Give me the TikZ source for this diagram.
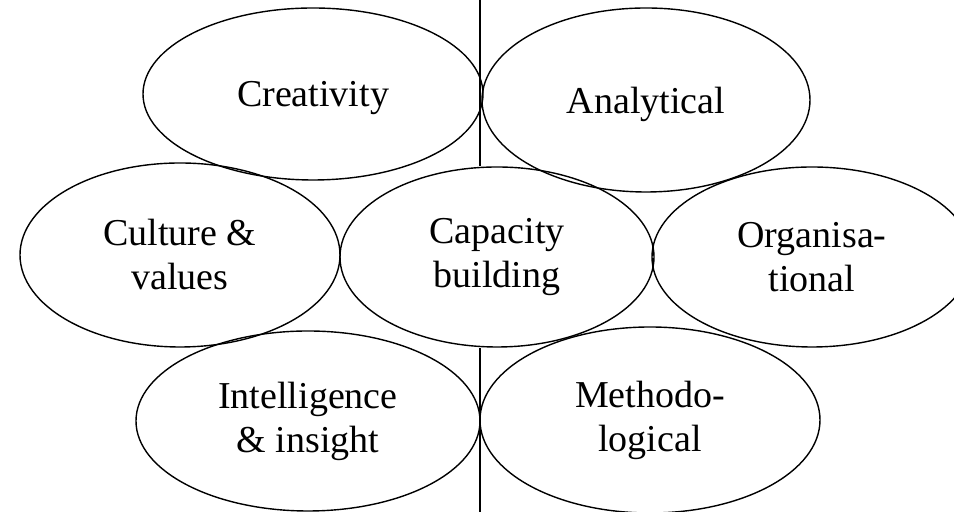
\documentclass[tikz,border=0pt]{standalone}
\usepackage{fontspec}
\setmainfont{Liberation Serif}
\usepackage{tikz}
\usetikzlibrary{shapes.geometric}

\begin{document}
\begin{tikzpicture}[x=0.5pt, y=0.5pt,
        bubble/.style={ellipse, draw, line width=0.7pt, inner sep=0pt, align=center,
            font=\fontsize{19}{22}\selectfont}]
        \useasboundingbox (0,0) rectangle (954,512);
        \node[bubble, text depth=0pt, minimum width=170pt, minimum height=86pt] (cre) at (313,418) {Creativity};
        \node[bubble, text depth=0pt, minimum width=164pt, minimum height=92pt] (ana) at (646,412) {Analytical};
        \node[bubble, minimum width=160pt, minimum height=92pt] (cul) at (180,257) {Culture \&\\values};
        \node[bubble, minimum width=157pt, minimum height=90pt] (cap) at (497,255) {Capacity\\building};
        \node[bubble, minimum width=160pt, minimum height=90pt] (org) at (812,255) {Organisa-\\tional};
        \node[bubble, minimum width=172pt, minimum height=90pt] (int) at (308,91) {Intelligence\\\& insight};
        \node[bubble, minimum width=170pt, minimum height=93pt] (met) at (650,92) {Methodo-\\logical};
        \coordinate (top) at (480,512);
        \coordinate (bot) at (480,0);
        \draw[line width=0.7pt] (top) -- (top |- cap.north);
        \draw[line width=0.7pt] (bot |- cap.south) -- (bot);
    \end{tikzpicture}
\end{document}
